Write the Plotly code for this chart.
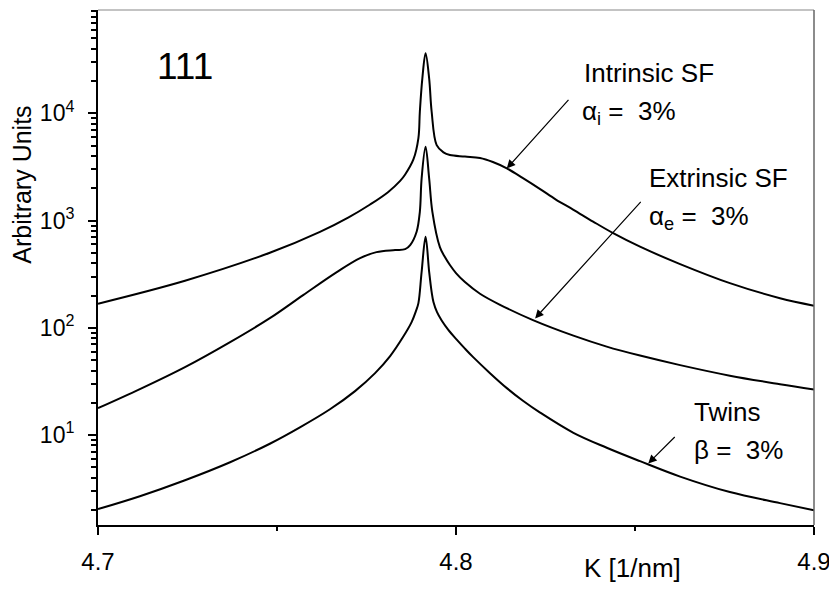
import plotly.graph_objects as go
import math

# ---- data ----
k_intrinsic = [4.7000, 4.7243, 4.7480, 4.7620, 4.7700, 4.7760, 4.7810, 4.7844, 4.7858, 4.7881,
               4.7895, 4.7899, 4.7906, 4.7915, 4.7925, 4.7932, 4.7946, 4.7965, 4.7983, 4.8025,
               4.8067, 4.8103, 4.8142, 4.8187, 4.8235, 4.8279, 4.8327, 4.8383, 4.8439, 4.8514,
               4.8626, 4.8765, 4.8905, 4.9000]
i_intrinsic = [168, 275, 501, 785, 1072, 1413, 1841, 2344, 2692, 3715,
               5888, 10350, 21200, 36300, 21200, 10350, 5060, 4325, 4083, 3955,
               3830, 3514, 3069, 2489, 1968, 1571, 1268, 979, 764, 571,
               393, 261, 189, 161]

k_extrinsic = [4.7000, 4.7117, 4.7243, 4.7369, 4.7480, 4.7573, 4.7667, 4.7732, 4.7778, 4.7830,
               4.7858, 4.7872, 4.7890, 4.7899, 4.7904, 4.7915, 4.7925, 4.7934, 4.7955, 4.7969,
               4.7983, 4.8000, 4.8025, 4.8067, 4.8123, 4.8215, 4.8328, 4.8421, 4.8514, 4.8626,
               4.8765, 4.8905, 4.9000]
i_extrinsic = [17.8, 26.8, 43.0, 73.6, 123, 202, 331, 447, 508, 531,
               542, 591, 787, 1208, 2478, 4875, 2478, 1208, 566, 457,
               385, 324, 267, 208, 164, 118, 84.5, 66.8, 55.1, 44.9,
               35.8, 29.8, 26.6]

k_twins = [4.7000, 4.7117, 4.7243, 4.7369, 4.7480, 4.7564, 4.7648, 4.7718, 4.7774, 4.7816,
           4.7852, 4.7876, 4.7888, 4.7895, 4.7904, 4.7915, 4.7925, 4.7932, 4.7937, 4.7947,
           4.7960, 4.7978, 4.8002, 4.8025, 4.8048, 4.8095, 4.8142, 4.8187, 4.8235, 4.8328,
           4.8421, 4.8514, 4.8626, 4.8765, 4.8905, 4.9000]
i_twins = [2.04, 2.69, 3.79, 5.58, 8.3, 11.8, 17.4, 25.7, 37.8, 54.5,
           82.0, 113, 143, 170, 333, 706, 333, 215, 174, 140,
           117, 96.2, 77.6, 64.0, 53.3, 37.8, 27.4, 20.9, 16.2, 10.5,
           7.62, 5.71, 4.10, 2.94, 2.32, 1.99]

x_tickvals = [4.7, 4.8, 4.9]
x_ticktext = ["4.7", "4.8", "4.9"]
y_tickvals = [10, 100, 1000, 10000]
y_ticktext = ["10<sup>1</sup>", "10<sup>2</sup>", "10<sup>3</sup>", "10<sup>4</sup>"]

FONT = "Liberation Sans, Arial, sans-serif"

fig = go.Figure()
for kx, iy, name in [(k_intrinsic, i_intrinsic, "Intrinsic SF"),
                     (k_extrinsic, i_extrinsic, "Extrinsic SF"),
                     (k_twins, i_twins, "Twins")]:
    fig.add_trace(go.Scatter(x=kx, y=iy, mode="lines", name=name,
                             line=dict(color="black", width=2, shape="spline", smoothing=1.0),
                             showlegend=False))

minor_y = [m * 10 ** e for e in range(0, 5) for m in range(2, 10)]

# page body has an 8px margin, so the figure is sized to fill the rest of the window
fig.update_layout(
    width=829, height=582,
    margin=dict(l=90, r=23, t=2, b=65),
    paper_bgcolor="white", plot_bgcolor="white",
    font=dict(family=FONT, color="black", size=24),
    xaxis=dict(range=[4.7, 4.9], tickvals=x_tickvals, ticktext=x_ticktext,
               ticks="outside", ticklen=8, tickwidth=1.5, tickcolor="black",
               showline=True, linecolor="black", linewidth=2, showgrid=False, zeroline=False,
               tickfont=dict(size=24), ticklabelstandoff=6,
               minor=dict(tickvals=[4.75, 4.85], ticks="outside", ticklen=4,
                          tickcolor="black", tickwidth=1.5, showgrid=False)),
    yaxis=dict(type="log", range=[math.log10(1.45), math.log10(9.2e4)],
               tickvals=y_tickvals, ticktext=y_ticktext,
               ticks="outside", ticklen=8, tickwidth=1.5, tickcolor="black",
               showline=True, linecolor="black", linewidth=2, showgrid=False, zeroline=False,
               tickfont=dict(size=23), ticklabelstandoff=9,
               minor=dict(tickvals=minor_y, ticks="outside", ticklen=5,
                          tickcolor="black", tickwidth=1.5, showgrid=False)),
)

# frame (top and right)
fig.add_shape(type="line", xref="paper", yref="paper", x0=0, x1=1, y0=1, y1=1,
              line=dict(color="#888888", width=1.2))
fig.add_shape(type="line", xref="paper", yref="paper", x0=1, x1=1, y0=0, y1=1,
              line=dict(color="#666666", width=1.5))

def txt(s, x, y, size=26, xanchor="left", **kw):
    fig.add_annotation(text=s, x=x, y=y, xref="paper", yref="paper", showarrow=False,
                       xanchor=xanchor, yanchor="middle", font=dict(size=size, family=FONT),
                       **kw)

txt("111", 0.1215, 0.891, size=37, xanchor="center")
txt("Intrinsic SF", 0.676, 0.8777)
txt("\u03b1<sub>i</sub> =  3%", 0.673, 0.800)
txt("Extrinsic SF", 0.7663, 0.6732)
txt("\u03b1<sub>e</sub> =  3%", 0.7663, 0.598)
txt("Twins", 0.8292, 0.22)
txt("\u03b2 =  3%", 0.8292, 0.1456)
txt("K [1/nm]", 0.747, -0.0835, size=26, xanchor="center")
txt("Arbitrary Units", -0.1066, 0.66, size=25, xanchor="center", textangle=-90)

# arrows (tip on the curve, tail offset in pixels)
for kx, ly, ax, ay in [(4.8142, 3.487, 63, -70),
                       (4.8221, 2.088, 107, -118),
                       (4.8537, 0.735, 28, -28)]:
    fig.add_annotation(x=kx, y=ly, xref="x", yref="y", ax=ax, ay=ay, axref="pixel", ayref="pixel",
                       showarrow=True, arrowhead=2, arrowsize=1.4, arrowwidth=1.2,
                       arrowcolor="black", standoff=0, text="")

fig.write_html("out.html")
